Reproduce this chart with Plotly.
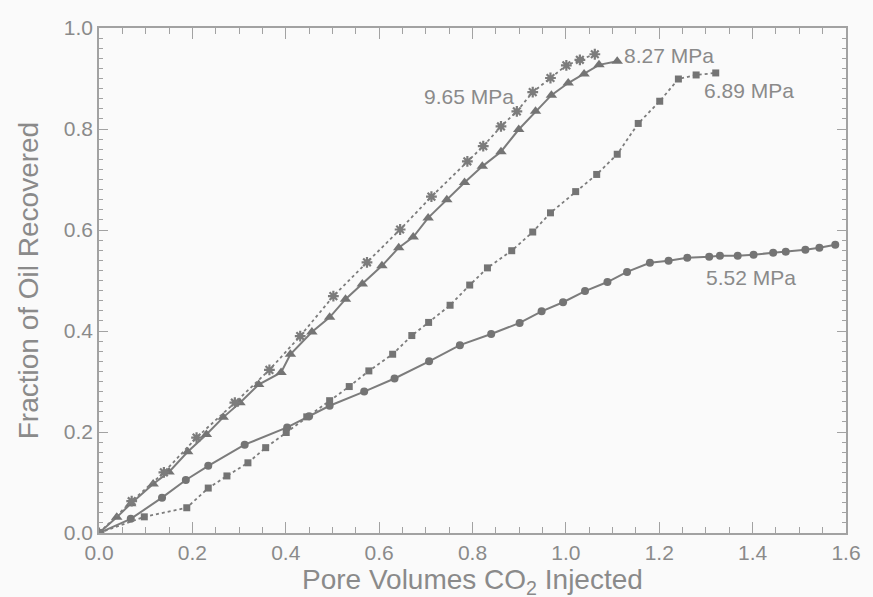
import plotly.graph_objects as go

# 5.52 MPa (circles, solid)
x_552 = [0.0, 0.068, 0.135, 0.186, 0.234, 0.312, 0.403, 0.450, 0.494, 0.568, 0.633, 0.707, 0.773,
         0.840, 0.901, 0.948, 0.994, 1.041, 1.089, 1.131, 1.180, 1.220, 1.260, 1.307, 1.330, 1.368,
         1.402, 1.444, 1.471, 1.513, 1.543, 1.577]
y_552 = [0.0, 0.028, 0.070, 0.105, 0.133, 0.175, 0.209, 0.231, 0.252, 0.280, 0.306, 0.340, 0.372,
         0.394, 0.416, 0.439, 0.457, 0.479, 0.497, 0.517, 0.535, 0.539, 0.545, 0.547, 0.549, 0.549,
         0.551, 0.555, 0.557, 0.561, 0.565, 0.571]

# 6.89 MPa (squares, dotted)
x_689 = [0.0, 0.097, 0.188, 0.234, 0.274, 0.319, 0.357, 0.401, 0.445, 0.494, 0.536, 0.578, 0.629,
         0.670, 0.706, 0.752, 0.794, 0.832, 0.884, 0.929, 0.967, 1.021, 1.066, 1.110, 1.155, 1.201,
         1.241, 1.279, 1.321]
y_689 = [0.0, 0.032, 0.050, 0.089, 0.113, 0.139, 0.169, 0.199, 0.230, 0.262, 0.290, 0.321, 0.354,
         0.391, 0.417, 0.451, 0.491, 0.525, 0.559, 0.596, 0.634, 0.676, 0.710, 0.750, 0.811, 0.855,
         0.899, 0.907, 0.911]

# 8.27 MPa (triangles, solid)
x_827 = [0.0, 0.038, 0.068, 0.116, 0.150, 0.190, 0.230, 0.266, 0.302, 0.342, 0.390, 0.410, 0.456,
         0.494, 0.528, 0.564, 0.606, 0.642, 0.673, 0.705, 0.745, 0.783, 0.821, 0.861, 0.899, 0.935,
         0.969, 1.005, 1.039, 1.071, 1.110]
y_827 = [0.0, 0.031, 0.058, 0.097, 0.121, 0.161, 0.195, 0.229, 0.258, 0.294, 0.318, 0.354, 0.398,
         0.427, 0.463, 0.493, 0.529, 0.565, 0.586, 0.624, 0.660, 0.694, 0.726, 0.755, 0.799, 0.835,
         0.867, 0.891, 0.909, 0.927, 0.934]

# 9.65 MPa (asterisks, dotted)
x_965 = [0.0, 0.070, 0.139, 0.209, 0.291, 0.365, 0.431, 0.502, 0.574, 0.645, 0.712, 0.789, 0.823,
         0.861, 0.895, 0.929, 0.967, 1.001, 1.030, 1.062]
y_965 = [0.0, 0.063, 0.120, 0.189, 0.258, 0.323, 0.390, 0.469, 0.536, 0.601, 0.666, 0.736, 0.766,
         0.805, 0.835, 0.873, 0.901, 0.926, 0.937, 0.948]

series_labels = ["5.52 MPa", "6.89 MPa", "8.27 MPa", "9.65 MPa"]
label_x = [1.397, 1.393, 1.220, 0.792]
label_y = [0.505, 0.877, 0.946, 0.865]

x_ticks = [0.0, 0.2, 0.4, 0.6, 0.8, 1.0, 1.2, 1.4, 1.6]
y_ticks = [0.0, 0.2, 0.4, 0.6, 0.8, 1.0]

FONT = "Liberation Sans, Arial, Helvetica, sans-serif"
LINE = "#7c7c7c"
MARK = "#747474"
TEXT = "#8a8a8a"
AXIS = "#a2a2a2"

fig = go.Figure()

fig.add_trace(go.Scatter(x=x_552, y=y_552, mode="lines+markers",
                         line=dict(color=LINE, width=2),
                         marker=dict(symbol="circle", size=8, color=MARK)))
fig.add_trace(go.Scatter(x=x_689, y=y_689, mode="lines+markers",
                         line=dict(color=LINE, width=1.8, dash="dot"),
                         marker=dict(symbol="square", size=7, color=MARK)))
fig.add_trace(go.Scatter(x=x_827, y=y_827, mode="lines+markers",
                         line=dict(color=LINE, width=2),
                         marker=dict(symbol="triangle-up", size=10, color=MARK)))
fig.add_trace(go.Scatter(x=x_965, y=y_965, mode="lines+markers",
                         line=dict(color=LINE, width=1.8, dash="dot"),
                         marker=dict(symbol="asterisk-open", size=9,
                                     line=dict(color=MARK, width=2.2))))

for t, lx, ly in zip(series_labels, label_x, label_y):
    fig.add_annotation(x=lx, y=ly, text=t, showarrow=False,
                       font=dict(family=FONT, size=21, color=TEXT),
                       xanchor="center", yanchor="middle")

# Axis titles
fig.add_annotation(xref="paper", yref="paper", x=0.5, y=-0.057, yanchor="top",
                   text="Pore Volumes CO<sub>2</sub> Injected", showarrow=False,
                   font=dict(family=FONT, size=28, color=TEXT))
fig.add_annotation(xref="paper", yref="paper", x=-0.094, y=0.5, textangle=-90,
                   xanchor="center", yanchor="middle",
                   text="Fraction of Oil Recovered", showarrow=False,
                   font=dict(family=FONT, size=28, color=TEXT))

fig.update_xaxes(range=[0, 1.6], tickvals=x_ticks, ticktext=[f"{v:.1f}" for v in x_ticks],
                 ticks="inside", ticklen=11, tickwidth=1.3, tickcolor=AXIS,
                 minor=dict(dtick=0.05, ticks="inside", ticklen=6, tickcolor=AXIS, tickwidth=1.2),
                 showline=True, linecolor=AXIS, linewidth=1.5, mirror="ticks",
                 showgrid=False, zeroline=False,
                 tickfont=dict(family=FONT, size=21, color=TEXT))
fig.update_yaxes(range=[0, 1.0], tickvals=y_ticks, ticktext=[f"{v:.1f}" for v in y_ticks],
                 ticks="inside", ticklen=9, tickwidth=1.3, tickcolor=AXIS,
                 minor=dict(dtick=0.02, ticks="inside", ticklen=4, tickcolor=AXIS, tickwidth=1.2),
                 showline=True, linecolor=AXIS, linewidth=1.5, mirror="ticks",
                 showgrid=False, zeroline=False,
                 tickfont=dict(family=FONT, size=21, color=TEXT))

fig.update_layout(width=873, height=597,
                  margin=dict(l=99, r=16, t=28, b=64),
                  paper_bgcolor="#fafafa", plot_bgcolor="#fafafa",
                  showlegend=False)

fig.write_html("out.html")
